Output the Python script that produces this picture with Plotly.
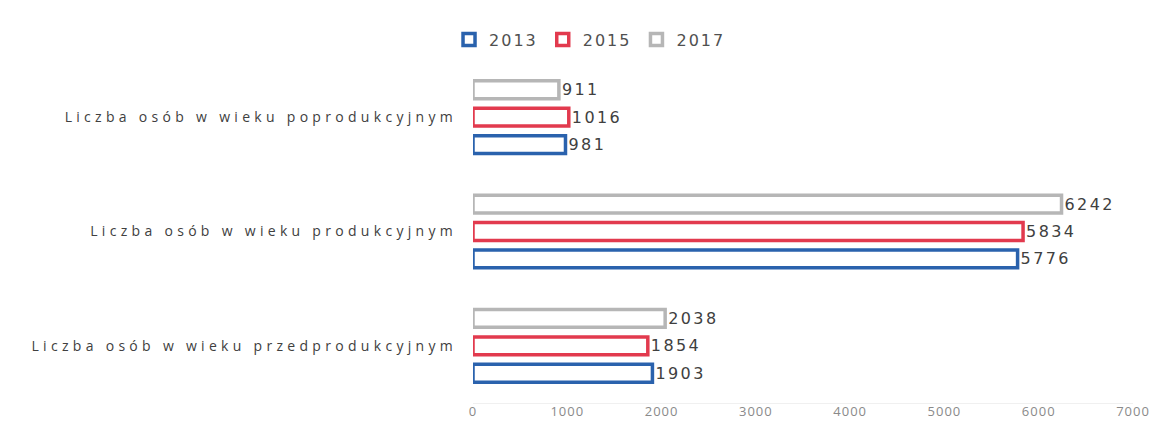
import plotly.graph_objects as go

# ------------------------------
# data
categories = [
    "Liczba osób w wieku przedprodukcyjnym",
    "Liczba osób w wieku produkcyjnym",
    "Liczba osób w wieku poprodukcyjnym",
]
years = ["2013", "2015", "2017"]
values_2013 = [1903, 5776, 981]
values_2015 = [1854, 5834, 1016]
values_2017 = [2038, 6242, 911]
x_ticks = [0, 1000, 2000, 3000, 4000, 5000, 6000, 7000]
# ------------------------------

series = [values_2013, values_2015, values_2017]
colors = ["#2a62ad", "#e23a4e", "#b6b6b6"]

# page body has an 8px margin, so the figure is drawn 8px smaller
OFF = 8


def spaced(s, px):
    # the source picture has very wide letter spacing
    return f"<span style='letter-spacing:{px}px'>{s}</span>"


fig = go.Figure()
for year, vals, col in zip(years, series, colors):
    fig.add_trace(go.Bar(
        y=categories,
        x=vals,
        name=spaced(year, 2),
        orientation='h',
        marker=dict(color='white', line=dict(color=col, width=3.5)),
        text=[spaced(str(v), 2.4) for v in vals],
        textposition='outside',
        constraintext='none',
        textfont=dict(size=16, color='#404040', family='DejaVu Sans'),
        cliponaxis=False,
    ))

fig.update_layout(
    width=1161 - OFF, height=424 - OFF,
    margin=dict(l=473 - OFF, r=28, t=60 - OFF, b=21, autoexpand=False),
    plot_bgcolor='white', paper_bgcolor='white',
    barmode='group', bargap=0.28, bargroupgap=0.35,
    font=dict(family='Open Sans', color='#404040'),
    legend=dict(
        orientation='h', xref='container', x=0.3825, xanchor='left',
        yref='container', y=0.965, yanchor='top',
        font=dict(size=16, color='#505050', family='DejaVu Sans'),
        traceorder='normal', itemwidth=30,
    ),
    xaxis=dict(
        range=[0, 7000], tickvals=x_ticks,
        ticktext=[spaced(str(t), 1) for t in x_ticks],
        showgrid=False, zeroline=False,
        showline=True, linecolor='#f0f0f0', linewidth=1,
        tickfont=dict(size=13, color='#8a8a8a'),
        ticklabelstandoff=-4, automargin=False,
    ),
    yaxis=dict(
        categoryorder='array', categoryarray=categories,
        tickvals=categories,
        ticktext=[spaced(c, 4.3) for c in categories],
        showgrid=False, zeroline=False,
        tickfont=dict(size=14, color='#404040'),
        ticklabelstandoff=15, automargin=False,
    ),
)

fig.write_html("out.html")
